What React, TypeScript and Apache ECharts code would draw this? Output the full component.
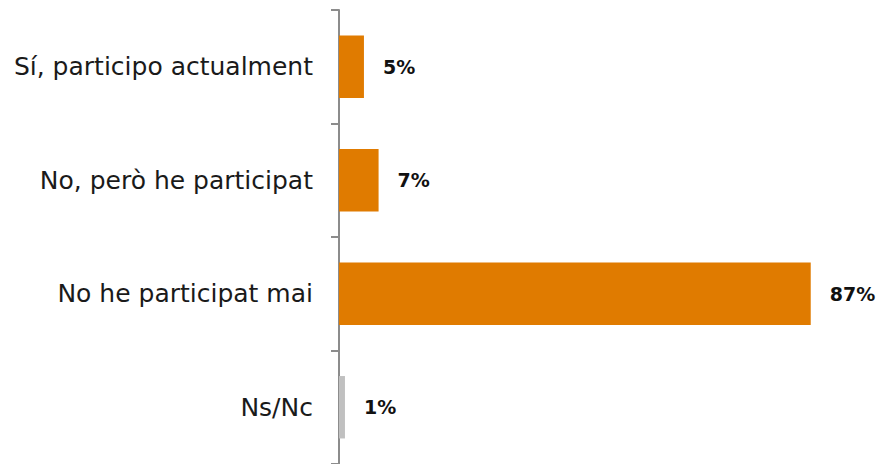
import React, { useEffect, useRef } from "react";
import * as echarts from "echarts";

const categories = ["Sí, participo actualment", "No, però he participat", "No he participat mai", "Ns/Nc"];
const values = [4.6, 7.3, 87, 1.1];
const valueLabels = ["5%", "7%", "87%", "1%"];
const barColors = ["#E07B00", "#E07B00", "#E07B00", "#C0C0C0"];

export default function App() {
  const ref = useRef<HTMLDivElement>(null);
  useEffect(() => {
    if (!ref.current) return;
    const chart = echarts.init(ref.current, null, { renderer: "svg" });
    chart.setOption({
      animation: false,
      grid: { left: 339, top: 10, width: 488, height: 455, containLabel: false },
      xAxis: {
        type: "value",
        min: 0,
        max: 90,
        show: false,
      },
      yAxis: {
        type: "category",
        data: categories,
        inverse: true,
        axisLine: { show: true, lineStyle: { color: "#8C8C8C", width: 2 } },
        axisTick: { show: true, length: 8, lineStyle: { color: "#8C8C8C", width: 2 } },
        axisLabel: {
          margin: 26,
          fontSize: 25,
          fontFamily: "DejaVu Sans",
          color: "#1A1A1A",
        },
        splitLine: { show: false },
      },
      series: [
        {
          type: "bar",
          barCategoryGap: "45%",
          data: values.map((v, i) => ({
            value: v,
            itemStyle: { color: barColors[i] },
            label: { formatter: valueLabels[i] },
          })),
          label: {
            show: true,
            position: "right",
            distance: 19,
            fontSize: 19,
            fontWeight: "bold",
            fontFamily: "DejaVu Sans",
            color: "#111",
          },
        },
      ],
    });
    return () => chart.dispose();
  }, []);
  return <div ref={ref} style={{ width: 879, height: 464, position: "absolute", left: 0, top: 0 }} />;
}
